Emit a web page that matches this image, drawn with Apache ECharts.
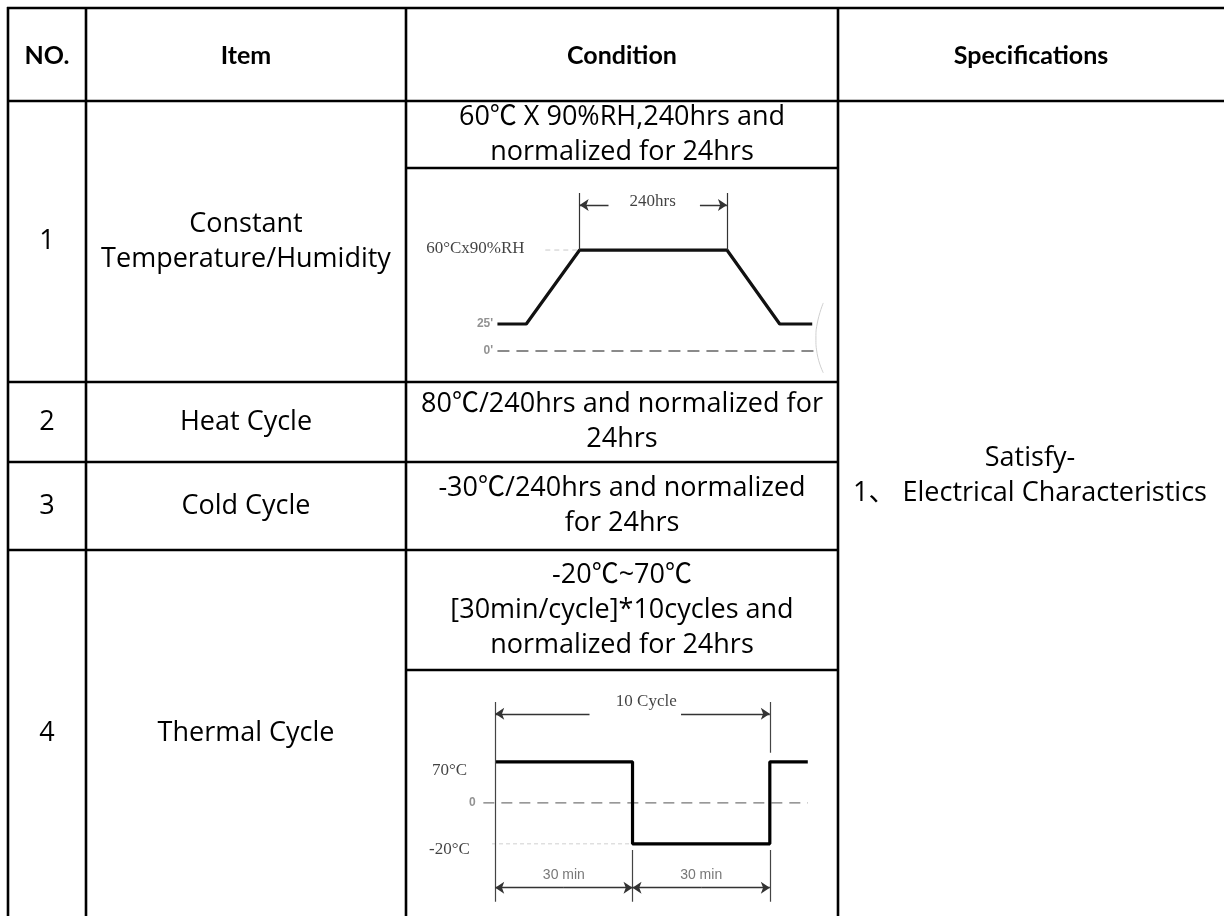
<!DOCTYPE html>
<html><head><meta charset="utf-8">
<script src="https://cdn.jsdelivr.net/npm/echarts@6/dist/echarts.min.js"></script>
<style>html,body{margin:0;padding:0;background:#fff}#c{width:1224px;height:916px}</style>
</head><body><div id="c"></div>
<script>
// ---------- table content ----------
const headers = ['NO.', 'Item', 'Condition', 'Specifications'];
const rowNos = ['1', '2', '3', '4'];
const items = ['Constant\nTemperature/Humidity', 'Heat Cycle', 'Cold Cycle', 'Thermal Cycle'];
const conditions = [
  '60℃ X 90%RH,240hrs and\nnormalized for 24hrs',
  '80℃/240hrs and normalized for\n24hrs',
  '-30℃/240hrs and normalized\nfor 24hrs',
  '-20℃~70℃\n[30min/cycle]*10cycles and\nnormalized for 24hrs'
];
const specText = 'Satisfy-\n1、 Electrical Characteristics';

// ---------- diagram 1 : constant temperature/humidity profile (schematic) ----------
const d1Time = [0, 47, 134, 374, 460, 513];        // hours (schematic)
const d1Level = [1, 1, 3.74, 3.74, 1, 1];          // schematic level (0 = 0°, 1 = 25°, 3.74 = 60°C)
const d1ZeroLine = [[0, 0], [524, 0]];
const d1HoldGuide = [[78, 3.74], [134, 3.74]];
const d1DimVert = [[[134, 3.74], [134, 5.85]], [[374, 3.74], [374, 5.85]]];
const d1DimArrows = [[[181, 5.41], [134, 5.41]], [[330, 5.41], [374, 5.41]]];
const d1Bracket = [[531, 1.78], [521, 1.0], [519, 0.48], [521, -0.1], [531, -0.81]];
const d1Labels = [
  {v: [-36, 3.8], t: '60°Cx90%RH'},
  {v: [253, 5.55], t: '240hrs'}
];
const d1TickLabels = [{v: [-7, 1], t: '25\''}, {v: [-7, 0], t: '0\''}];

// ---------- diagram 2 : thermal cycle (schematic) ----------
const d2Time = [0, 30, 30, 60, 60, 68.3];           // minutes
const d2Level = [1, 1, -1, -1, 1, 1];               // 1 = 70°C, 0 = 0, -1 = -20°C
const d2ZeroLine = [[-2.6, 0], [68.3, 0]];
const d2LowGuide = [[-0.7, -1], [30, -1]];
const d2DimVert = [
  [[0, 2.46], [0, -2.41]],
  [[60, 2.46], [60, 1.22]],
  [[60, -1.15], [60, -2.41]],
  [[30, -1.15], [30, -2.41]]
];
const d2TopArrows = [[[20.6, 2.17], [0, 2.17]], [[40.6, 2.17], [60, 2.17]]];
const d2BottomArrows = [[[15, -2.07], [0, -2.07]], [[15, -2.07], [30, -2.07]], [[45, -2.07], [30, -2.07]], [[45, -2.07], [60, -2.07]]];
const d2Labels = [
  {v: [33, 2.46], t: '10 Cycle'},
  {v: [-10, 0.8], t: '70°C'},
  {v: [-10, -1.15], t: '-20°C'}
];
const d2ZeroLabel = [{v: [-5, 0], t: '0'}];
const d2MinLabels = [{v: [15, -1.76], t: '30 min'}, {v: [45, -1.76], t: '30 min'}];

// ---------- layout ----------
const colX = [8, 86, 406, 838, 1224];
const rowY = [8, 101, 382, 462, 550, 916];
const condSplitY = [168, null, null, 670];
const LW = 2.6;
const sans = "'Open Sans', 'Noto Sans CJK SC', sans-serif";
const headFont = "Lato, 'Open Sans', sans-serif";
const serif = "'Liberation Serif', 'DejaVu Serif', serif";

const g = [];
function hline(x1, x2, y) { g.push({type: 'line', shape: {x1, y1: y, x2, y2: y}, style: {stroke: '#000', lineWidth: LW}}); }
function vline(x, y1, y2) { g.push({type: 'line', shape: {x1: x, y1, x2: x, y2}, style: {stroke: '#000', lineWidth: LW}}); }
function text(x, y, t, bold) {
  g.push({type: 'text', x, y, style: {text: t, fill: '#000',
    font: bold ? 'bold 25px ' + headFont : '27px ' + sans,
    align: 'center', verticalAlign: 'middle', lineHeight: 35}});
}
hline(colX[0] - 1, colX[4], rowY[0]);
hline(colX[0] - 1, colX[4], rowY[1]);
for (let i = 2; i < rowY.length - 1; i++) hline(colX[0] - 1, colX[3] + 1, rowY[i]);
for (let i = 0; i < 4; i++) vline(colX[i], rowY[0] - 1, rowY[rowY.length - 1] + 2);
condSplitY.forEach(y => { if (y) hline(colX[2], colX[3], y); });

headers.forEach((h, i) => text((colX[i] + colX[i + 1]) / 2, (rowY[0] + rowY[1]) / 2 + 1, h, true));
for (let r = 0; r < 4; r++) {
  const top = rowY[r + 1], bot = rowY[r + 2];
  const mid = (top + bot) / 2;
  text((colX[0] + colX[1]) / 2, mid, rowNos[r]);
  text((colX[1] + colX[2]) / 2, mid, items[r]);
  const cBot = condSplitY[r] || bot;
  text((colX[2] + colX[3]) / 2, (top + cBot) / 2, conditions[r]);
}
text((colX[3] + colX[4]) / 2 - 1, (rowY[1] + rowY[rowY.length - 1]) / 2 - 33, specText);

// ---------- grids for diagrams ----------
const grid1 = {left: colX[2], top: condSplitY[0], width: colX[3] - colX[2], height: rowY[2] - condSplitY[0]};
const grid2 = {left: colX[2], top: condSplitY[3], width: colX[3] - colX[2], height: rowY[5] - condSplitY[3]};
function hiddenAxis(idx, min, max) { return {type: 'value', gridIndex: idx, min, max, show: false}; }

function zipPts(xs, ys) { return xs.map((x, i) => [x, ys[i]]); }
function lineSeg(idx, pts, color, width, type) {
  return {type: 'line', xAxisIndex: idx, yAxisIndex: idx, data: pts, symbol: 'none', silent: true, animation: false,
    lineStyle: {color, width, type: type || 'solid'}, z: 3};
}
function arrows(idx, segs, color) {
  return {type: 'lines', coordinateSystem: 'cartesian2d', xAxisIndex: idx, yAxisIndex: idx, silent: true, animation: false,
    symbol: ['none', 'arrow'], symbolSize: 9,
    lineStyle: {color, width: 1.4, opacity: 1}, data: segs.map(c => ({coords: c})), z: 4};
}
function vsegs(idx, segs, color) {
  return {type: 'lines', coordinateSystem: 'cartesian2d', xAxisIndex: idx, yAxisIndex: idx, silent: true, animation: false,
    symbol: ['none', 'none'], lineStyle: {color, width: 1.2, opacity: 1}, data: segs.map(c => ({coords: c})), z: 4};
}
function labels(idx, arr, font, size, color, weight, align) {
  return {type: 'scatter', xAxisIndex: idx, yAxisIndex: idx, symbolSize: 0, silent: true, animation: false,
    data: arr.map(o => ({value: o.v, label: {formatter: o.t}})),
    label: {show: true, position: 'inside', fontFamily: font, fontSize: size, color, fontWeight: weight || 'normal', align: align || 'center', verticalAlign: 'middle'}, z: 5};
}

const option = {
  animation: false,
  grid: [grid1, grid2],
  xAxis: [hiddenAxis(0, -149, 555), hiddenAxis(1, -19.5, 74.9)],
  yAxis: [hiddenAxis(0, -1.15, 6.78), hiddenAxis(1, -2.76, 3.24)],
  graphic: {elements: g},
  series: [
    lineSeg(0, d1ZeroLine, '#8a8a8a', 2, [12, 7]),
    lineSeg(0, d1HoldGuide, '#c8c8c8', 1, [5, 4]),
    lineSeg(0, zipPts(d1Time, d1Level), '#111', 3.2),
    Object.assign(lineSeg(0, d1Bracket, '#cfcfcf', 1), {smooth: true}),
    vsegs(0, d1DimVert, '#333'),
    arrows(0, d1DimArrows, '#333'),
    labels(0, d1Labels, serif, 17, '#111'),
    labels(0, d1TickLabels, 'Liberation Sans, sans-serif', 12, '#777', 'bold', 'right'),

    lineSeg(1, d2ZeroLine, '#777', 1.3, [11, 7]),
    lineSeg(1, d2LowGuide, '#d0d0d0', 1, [4, 3]),
    lineSeg(1, zipPts(d2Time, d2Level), '#000', 3.2),
    vsegs(1, d2DimVert, '#444'),
    arrows(1, d2TopArrows, '#333'),
    arrows(1, d2BottomArrows, '#333'),
    labels(1, d2Labels, serif, 17, '#111'),
    labels(1, d2ZeroLabel, 'Liberation Sans, sans-serif', 12, '#777', 'bold'),
    labels(1, d2MinLabels, 'Liberation Sans, sans-serif', 14, '#555')
  ]
};
const chart = echarts.init(document.getElementById('c'), null, {renderer: 'canvas'});
chart.setOption(option);
</script></body></html>
